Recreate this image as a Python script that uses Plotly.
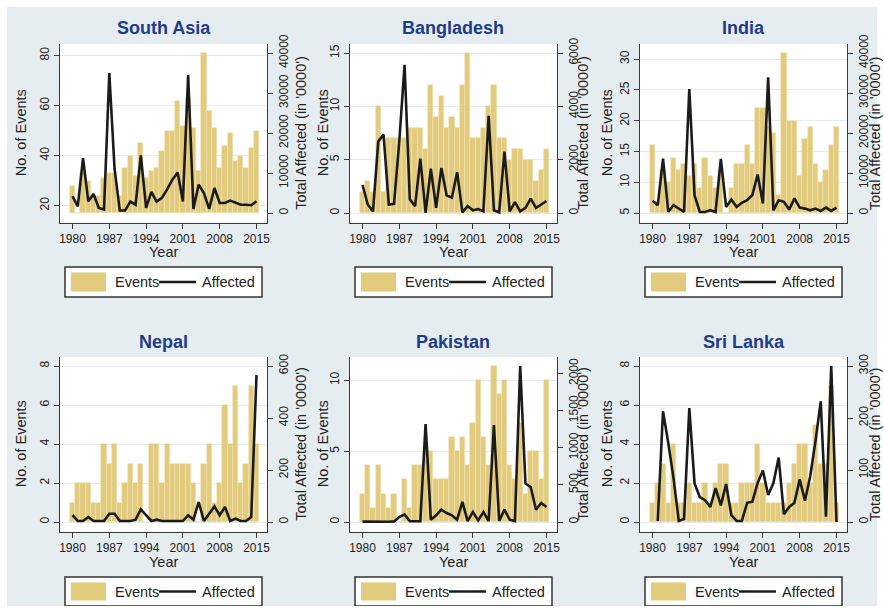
import plotly.graph_objects as go

# ---------------------------------------------------------------------------
# Data: number of disaster events (bars) and total affected, in '0000 (line)
# ---------------------------------------------------------------------------
YEARS = list(range(1980, 2016))
X_TICKS = [1980, 1987, 1994, 2001, 2008, 2015]

SA_EVENTS = [28, 17, 33, 30, 24, 24, 31, 33, 33, 24,
             35, 40, 32, 45, 31, 34, 35, 42, 50, 50,
             62, 52, 63, 51, 34, 81, 58, 51, 35, 44,
             49, 38, 40, 35, 43, 50]
SA_AFFECTED = [4200, 1640, 13740, 2920, 4740, 1280, 850, 35000, 11000, 610,
               610, 2860, 2070, 14410, 1280, 5290, 2860, 3770, 5900, 8330,
               10150, 2860, 34500, 1030, 7110, 4990, 1030, 6260, 2490, 2490,
               3100, 2490, 2070, 2070, 1950, 2920]

BD_EVENTS = [2, 3, 2, 10, 2, 7, 7, 7, 7, 8,
             8, 8, 6, 12, 9, 11, 8, 9, 8, 12,
             15, 7, 7, 8, 10, 12, 7, 7, 5, 6,
             6, 5, 5, 3, 4, 6]
BD_AFFECTED = [1050, 320, 60, 2680, 2940, 320, 345, 2700, 5560, 510,
               260, 2040, 10, 1660, 190, 1690, 660, 575, 1530, 25,
               260, 100, 150, 60, 3640, 100, 25, 2300, 60, 410,
               60, 190, 540, 190, 320, 450]

IN_EVENTS = [16, 7, 12, 10, 14, 12, 13, 11, 13, 9,
             14, 11, 9, 12, 5, 9, 13, 13, 16, 13,
             22, 22, 19, 18, 8, 31, 20, 20, 11, 17,
             19, 13, 10, 12, 16, 19]
IN_AFFECTED = [3050, 1950, 13600, 300, 1950, 1100, 250, 31000, 4400, 250,
               250, 700, 250, 13500, 1530, 3400, 1530, 2550, 3200, 4500,
               9600, 2400, 33900, 680, 3200, 2800, 850, 3650, 1350, 1100,
               680, 1100, 510, 1350, 510, 1350]

NP_EVENTS = [1, 2, 2, 2, 1, 1, 4, 3, 4, 1,
             2, 3, 2, 3, 0, 4, 4, 2, 4, 3,
             3, 3, 3, 2, 0, 3, 4, 1, 2, 6,
             4, 7, 2, 3, 7, 4]
NP_AFFECTED = [26, 4, 4, 19, 4, 4, 4, 32, 32, 4,
               4, 4, 9, 49, 26, 4, 9, 4, 4, 4,
               4, 4, 26, 9, 77, 4, 32, 60, 26, 58,
               4, 13, 4, 4, 19, 565]

PK_EVENTS = [2, 4, 1, 4, 2, 1, 2, 0, 3, 1,
             4, 4, 5, 5, 3, 3, 3, 6, 5, 6,
             4, 7, 10, 6, 4, 11, 9, 10, 4, 3,
             7, 2, 5, 5, 3, 10]
PK_AFFECTED = [5, 3, 2, 6, 4, 3, 8, 67, 103, 10,
               10, 10, 1318, 31, 90, 166, 121, 90, 31, 270,
               13, 135, 22, 135, 13, 1305, 13, 166, 31, 13,
               2100, 518, 472, 166, 256, 202]

LK_EVENTS = [1, 2, 3, 1, 4, 1, 1, 2, 1, 1,
             2, 1, 2, 3, 3, 1, 1, 2, 2, 2,
             4, 2, 1, 1, 1, 1, 2, 3, 4, 4,
             2, 5, 3, 3, 7, 1]
LK_AFFECTED = [None, 2, 213, 152, 84, 2, 6, 219, 74, 48,
               42, 29, 65, 32, 73, 13, 2, 2, 37, 39,
               75, 99, 52, 75, 124, 15, 29, 37, 82, 41,
               88, 155, 232, 10, 300, 0]

NAMES = ["South Asia", "Bangladesh", "India", "Nepal", "Pakistan", "Sri Lanka"]
EVENTS = [SA_EVENTS, BD_EVENTS, IN_EVENTS, NP_EVENTS, PK_EVENTS, LK_EVENTS]
AFFECTED = [SA_AFFECTED, BD_AFFECTED, IN_AFFECTED, NP_AFFECTED, PK_AFFECTED, LK_AFFECTED]

EV_TICKS = [[20, 40, 60, 80], [0, 5, 10, 15], [5, 10, 15, 20, 25, 30],
            [0, 2, 4, 6, 8], [0, 5, 10], [0, 2, 4, 6, 8]]
AF_TICKS = [[0, 10000, 20000, 30000, 40000], [0, 2000, 4000, 6000],
            [0, 10000, 20000, 30000, 40000], [0, 200, 400, 600],
            [0, 500, 1000, 1500, 2000], [0, 100, 200, 300]]

# value extent that fills each panel's data area (left: events, right: affected)
EV_SPAN = [(17, 81), (0, 15), (5, 31), (0, 8), (0, 11), (0, 8)]
AF_SPAN = [(0, 40000), (0, 6000), (0, 40000), (0, 600), (0, 2100), (0, 300)]

# ---------------------------------------------------------------------------
# Styling and geometry (pixels on an 884 x 613 canvas)
# ---------------------------------------------------------------------------
W, H = 884, 613
BG = "#E6EDF0"
BAR = "#E2CB7D"
BAR_EDGE = "#EFE3B6"
LINE = "#1B1B1B"
AX = "#3A3A3A"
GRID = "#E6ECEF"
TXT = "#222222"
TITLE = "#1E3C8C"
FONT = "Liberation Sans, Arial, sans-serif"

COL_LEFT = [60, 350, 640]
AXIS_W = 207
ROWS = [
    dict(axis_top=44, data_top=53, data_bot=213, axis_bot=222.5,
         title_y=28, xtitle_y=252, leg_top=267, leg_bot=297),
    dict(axis_top=357, data_top=366, data_bot=522, axis_bot=531.5,
         title_y=342, xtitle_y=562, leg_top=577, leg_bot=606),
]
LEFT_TITLE_X = [21, 323, 607]
RIGHT_TITLE_X = [301.5, 583.5, 875]
X_RANGE = [1977.62, 2017.0]
LEG_W = 197


def fx(p):
    return p / W


def fy(p):
    return 1 - p / H


def axis_range(lo, hi, row):
    per = (hi - lo) / (row["data_bot"] - row["data_top"])
    return [lo - (row["axis_bot"] - row["data_bot"]) * per,
            hi + (row["data_top"] - row["axis_top"]) * per]


fig = go.Figure()
layout = dict(
    width=W, height=H, template="none",
    margin=dict(l=0, r=0, t=0, b=0, pad=0),
    paper_bgcolor=BG, plot_bgcolor="white",
    showlegend=False, bargap=0,
    font=dict(family=FONT, color=TXT),
)
shapes = []
annotations = []

for i, name in enumerate(NAMES):
    r, c = divmod(i, 3)
    row = ROWS[r]
    n = i + 1
    xa = "x" if n == 1 else f"x{n}"
    yl_n, yr_n = 2 * n - 1, 2 * n
    yl = "y" if yl_n == 1 else f"y{yl_n}"
    yr = f"y{yr_n}"
    left = COL_LEFT[c]
    right = left + AXIS_W
    mid = (left + right) / 2
    floor = EV_SPAN[i][0]

    fig.add_trace(go.Bar(
        x=YEARS, y=[v - floor for v in EVENTS[i]], base=floor, width=1.0,
        xaxis=xa, yaxis=yl, name="Events",
        marker=dict(color=BAR, line=dict(color=BAR_EDGE, width=0.6)),
    ))
    fig.add_trace(go.Scatter(
        x=YEARS, y=AFFECTED[i], mode="lines", xaxis=xa, yaxis=yr,
        name="Affected", line=dict(color=LINE, width=2.6), connectgaps=False,
    ))

    tick_common = dict(ticks="outside", ticklen=5, tickwidth=1.2, tickcolor=AX,
                       showline=True, linecolor=AX, linewidth=1.4,
                       zeroline=False, automargin=False, fixedrange=True,
                       tickformat="d",
                       tickfont=dict(size=12, color=TXT, family=FONT))

    layout["xaxis" + ("" if n == 1 else str(n))] = dict(
        domain=[fx(left), fx(right)], range=X_RANGE, anchor=yl,
        tickmode="array", tickvals=X_TICKS, showgrid=False, **tick_common)
    layout["yaxis" + ("" if yl_n == 1 else str(yl_n))] = dict(
        domain=[fy(row["axis_bot"]), fy(row["axis_top"])],
        range=axis_range(*EV_SPAN[i], row), anchor=xa, side="left",
        tickmode="array", tickvals=EV_TICKS[i], tickangle=-90,
        showgrid=True, gridcolor=GRID, gridwidth=1, **tick_common)
    layout["yaxis" + str(yr_n)] = dict(
        overlaying=yl, anchor=xa, side="right",
        range=axis_range(*AF_SPAN[i], row),
        tickmode="array", tickvals=AF_TICKS[i], tickangle=-90,
        showgrid=False, **tick_common)

    # panel title and axis titles
    annotations.append(dict(
        text=f"<b>{name}</b>", x=fx(mid), y=fy(row["title_y"]),
        xref="paper", yref="paper", xanchor="center", yanchor="middle",
        showarrow=False, font=dict(size=18, color=TITLE, family=FONT)))
    annotations.append(dict(
        text="Year", x=fx(mid), y=fy(row["xtitle_y"]),
        xref="paper", yref="paper", xanchor="center", yanchor="middle",
        showarrow=False, font=dict(size=14.5, color=TXT, family=FONT)))
    ymid = (row["axis_top"] + row["axis_bot"]) / 2
    annotations.append(dict(
        text="No. of Events", x=fx(LEFT_TITLE_X[c]), y=fy(ymid), textangle=-90,
        xref="paper", yref="paper", xanchor="center", yanchor="middle",
        showarrow=False, font=dict(size=14.5, color=TXT, family=FONT)))
    annotations.append(dict(
        text="Total Affected (in '0000')", x=fx(RIGHT_TITLE_X[c]), y=fy(ymid),
        textangle=-90, xref="paper", yref="paper", xanchor="center",
        yanchor="middle", showarrow=False,
        font=dict(size=14.5, color=TXT, family=FONT)))

    # legend box
    bl = mid - LEG_W / 2
    bt, bb = row["leg_top"], row["leg_bot"]
    bc = (bt + bb) / 2
    shapes.append(dict(type="rect", xref="paper", yref="paper",
                       x0=fx(bl), x1=fx(bl + LEG_W), y0=fy(bb), y1=fy(bt),
                       fillcolor="white", line=dict(color="#333333", width=1.5)))
    shapes.append(dict(type="rect", xref="paper", yref="paper",
                       x0=fx(bl + 6), x1=fx(bl + 41), y0=fy(bb - 5.5), y1=fy(bt + 5.5),
                       fillcolor=BAR, line=dict(width=0)))
    shapes.append(dict(type="line", xref="paper", yref="paper",
                       x0=fx(bl + 94), x1=fx(bl + 131), y0=fy(bc), y1=fy(bc),
                       line=dict(color=LINE, width=2.6)))
    annotations.append(dict(
        text="Events", x=fx(bl + 48), y=fy(bc), xref="paper", yref="paper",
        xanchor="left", yanchor="middle", showarrow=False,
        font=dict(size=14.5, color=TXT, family=FONT)))
    annotations.append(dict(
        text="Affected", x=fx(bl + 135), y=fy(bc), xref="paper", yref="paper",
        xanchor="left", yanchor="middle", showarrow=False,
        font=dict(size=14.5, color=TXT, family=FONT)))

# thin white frame around the whole graphic
shapes.append(dict(type="rect", xref="paper", yref="paper", x0=0, x1=1, y0=0, y1=1,
                   fillcolor="rgba(0,0,0,0)", line=dict(color="white", width=14),
                   layer="above"))

layout["shapes"] = shapes
layout["annotations"] = annotations
fig.update_layout(**layout)
fig.write_html("out.html")
